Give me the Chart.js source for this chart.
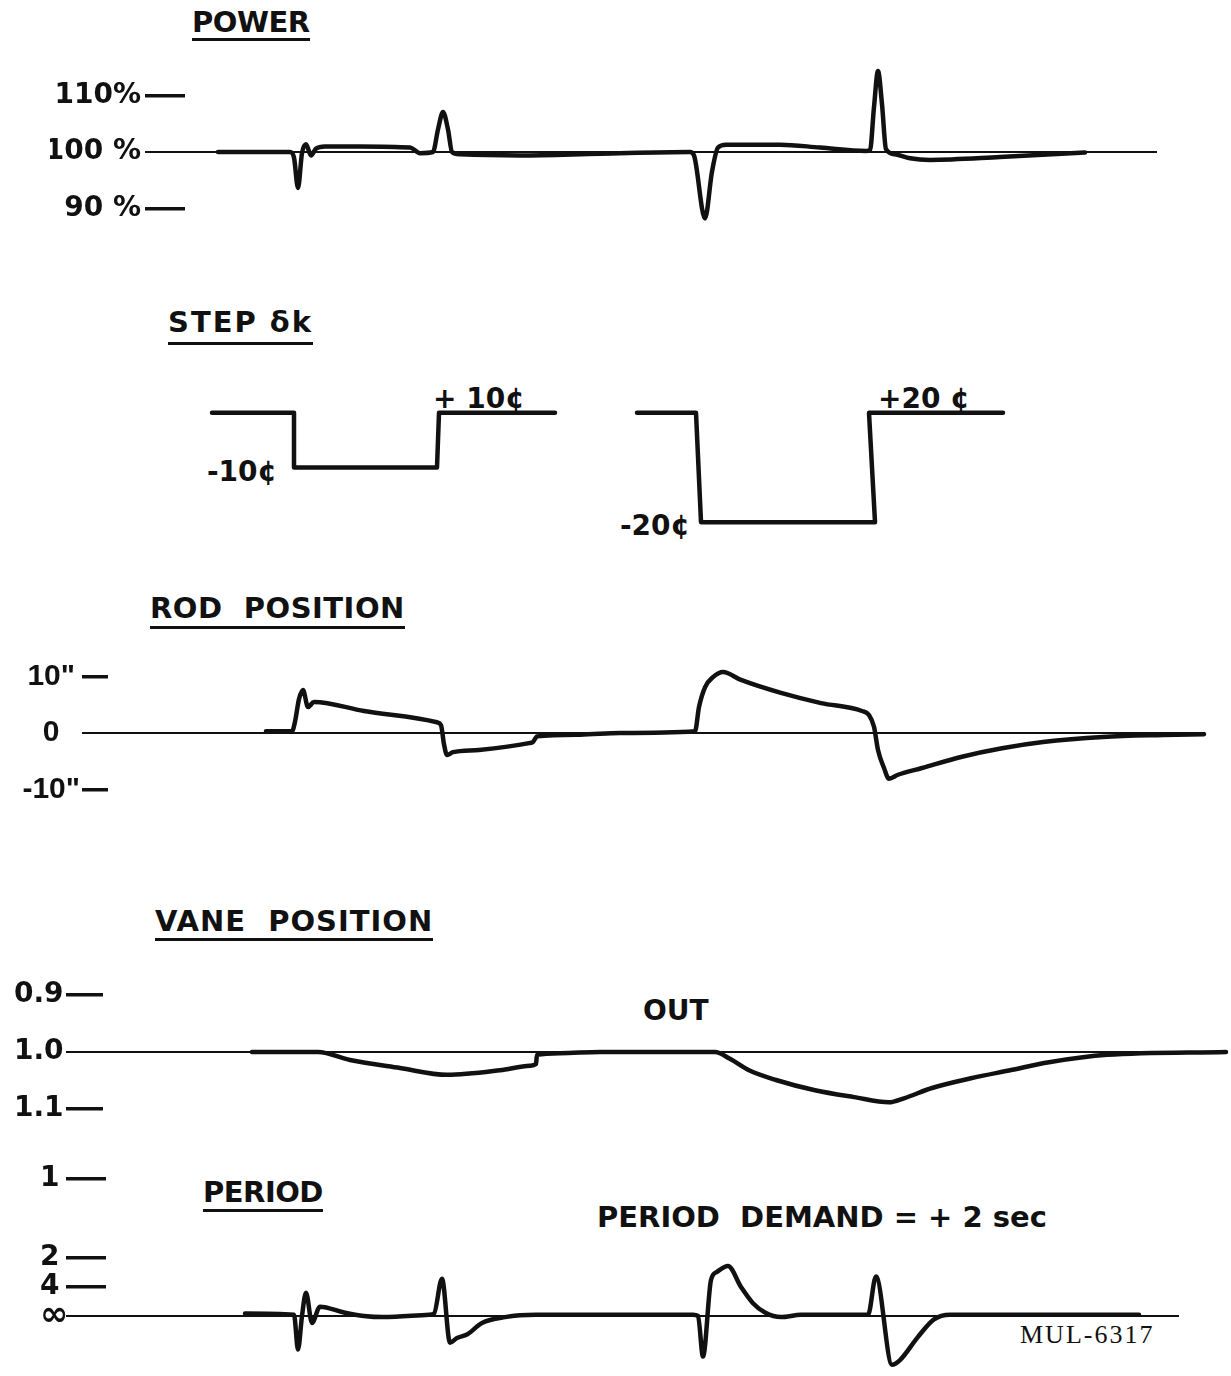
<!DOCTYPE html>
<html>
<head>
<meta charset="utf-8">
<script src="https://cdn.jsdelivr.net/npm/chart.js@4.4.0/dist/chart.umd.min.js"></script>
<style>
  html, body { margin: 0; padding: 0; background: #fff; }
  body { width: 1231px; height: 1376px; position: relative; overflow: hidden;
         font-family: 'DejaVu Sans', sans-serif; color: #111; }
  canvas { position: absolute; left: 0; }
  .title { position: absolute; font-weight: bold; font-size: 29px; line-height: 29px;
           letter-spacing: 0.5px; white-space: pre; border-bottom: 3px solid #111; }
  .note { position: absolute; font-weight: bold; font-size: 28px; line-height: 28px; white-space: pre; }
  .code { position: absolute; font-family: 'Liberation Serif', serif; font-size: 26px;
          line-height: 26px; letter-spacing: 2px; }
</style>
</head>
<body>
<div class="title" style="left:192px; top:8px; padding-bottom:1px; letter-spacing:-0.5px;">POWER</div>
<div class="title" style="left:168px; top:308px; padding-bottom:5px; letter-spacing:2px;">STEP δk</div>
<div class="title" style="left:150px; top:594px; padding-bottom:3px;">ROD  POSITION</div>
<div class="title" style="left:155px; top:907px; padding-bottom:2px; letter-spacing:1px;">VANE  POSITION</div>
<div class="title" style="left:203px; top:1178px; padding-bottom:2px; letter-spacing:-0.5px;">PERIOD</div>

<div class="note" style="left:433px; top:385px;">+ 10¢</div>
<div class="note" style="left:207px; top:458px;">-10¢</div>
<div class="note" style="left:878px; top:385px;">+20 ¢</div>
<div class="note" style="left:620px; top:512px;">-20¢</div>
<div class="note" style="left:643px; top:997px;">OUT</div>
<div class="note" style="left:597px; top:1203px; font-size:29px;">PERIOD  DEMAND = + 2 sec</div>
<div class="code" style="left:1020px; top:1322px;">MUL-6317</div>

<canvas id="power-chart" width="1231" height="180"></canvas>
<canvas id="step-chart" width="1231" height="153"></canvas>
<canvas id="rod-chart" width="1231" height="158"></canvas>
<canvas id="vane-chart" width="1231" height="160"></canvas>
<canvas id="period-chart" width="1231" height="209"></canvas>

<script>
// =================================================================
// Data (time t in s)
// =================================================================
const powerT = [21.8, 29.0, 29.4, 29.8, 30.2, 30.6, 31.1, 31.6, 32.5, 36.0, 41.0, 42.0, 43.3, 43.8, 44.3, 44.8, 45.2, 46.0, 52.0, 60.0,
                69.0, 69.4, 70.5, 71.2, 71.8, 72.6, 78.0, 82.0, 86.6, 87.0, 87.4, 87.8, 88.2, 88.6, 89.5, 91.0, 93.0, 100.0, 108.5];
const powerPct = [100, 100, 99, 93.6, 99.8, 101.4, 99.4, 100.6, 101, 101, 100.8, 99.8, 100, 104, 107.1, 104, 100, 99.6, 99.4, 99.7,
                  100, 99.4, 88.2, 96.5, 100.8, 101.3, 101.3, 100.8, 100.2, 100.3, 108, 114.4, 108.5, 100.5, 99.6, 98.9, 98.6, 99.1, 99.9];
const powerTicks = [110, 100, 90];
const powerTickLabels = ['110%', '100 %', '90 %'];

// step reactivity in cents; null splits the two runs
const stepT = [21.2, 29.4, 29.4, 43.7, 43.9, 55.5, 59.6, 63.7, 69.6, 70.1, 87.5, 86.9, 100.3];
const stepCents = [0, 0, -10, -10, 0, 0, null, 0, 0, -20, -20, 0, 0];

const rodT = [26.6, 29.2, 29.5, 29.9, 30.3, 30.8, 31.4, 36.4, 43.7, 44.1, 44.4, 44.7, 45.3, 47.9, 52.9, 53.3, 53.7, 58.0, 62.0,
              69.5, 69.9, 70.5, 71.3, 72.3, 74.1, 78.1, 82.1, 86.2, 86.9, 87.4, 87.8, 88.4, 88.9, 89.8, 92.2, 96.2, 100.2, 104.3, 110.3, 116.3, 120.4];
const rodInches = [0.3, 0.3, 2.0, 6.0, 7.6, 4.6, 5.5, 3.9, 1.9, 1.4, -2.0, -3.9, -3.4, -3.0, -1.8, -1.6, -0.6, -0.3, 0,
                   0.3, 4.6, 8.1, 9.9, 10.8, 9.4, 7.1, 5.3, 3.9, 3.2, 1.1, -3.0, -6.2, -8.1, -7.4, -6.2, -4.2, -2.7, -1.6, -0.7, -0.35, -0.2];
const rodTicks = [10, 0, -10];
const rodTickLabels = ['10"', '0', '-10"'];

const vaneT = [25.2, 31.8, 35.0, 40.0, 44.7, 50.0, 53.0, 53.6, 53.7, 56.0, 60.0, 71.5, 73.0, 74.9, 77.6, 81.5, 85.4, 88.9, 90.4,
               93.2, 97.1, 101.0, 104.9, 110.7, 122.6];
const vanePos = [1.0, 1.0, 1.014, 1.028, 1.04, 1.032, 1.024, 1.021, 1.005, 1.002, 1.0, 1.0, 1.012, 1.032, 1.049, 1.067, 1.079, 1.088, 1.081,
                 1.063, 1.046, 1.032, 1.018, 1.005, 1.0];
const vaneTicks = [0.9, 1.0, 1.1];
const vaneTickLabels = ['0.9', '1.0', '1.1'];

// inverse period, 1/s
const periodT = [24.5, 29.4, 29.8, 30.2, 30.6, 31.2, 32.0, 34.4, 36.4, 38.3, 42.9, 43.4, 44.2, 45.0, 45.7, 46.7, 48.2, 50.5, 53.6, 60.0,
                 69.3, 69.8, 70.3, 71.1, 71.7, 72.8, 74.1, 75.3, 76.5, 78.1, 80.1, 86.8, 87.6, 89.2, 90.0, 91.8, 93.4, 95.0, 113.9];
const periodInv = [0.02, 0.01, -0.29, 0, 0.2, -0.06, 0.08, 0.03, 0.0, -0.01, 0.01, 0.02, 0.32, -0.23, -0.19, -0.16, -0.06, -0.01, 0.01, 0.01,
                   0.01, 0, -0.35, 0.31, 0.38, 0.43, 0.25, 0.11, 0.03, -0.01, 0.01, 0.01, 0.34, -0.42, -0.38, -0.18, -0.03, 0.01, 0.01];
// the "1" mark sits higher on the drawing than a straight 1/T scale would put it
const periodTicks = [1.18, 0.5, 0.25, 0];
const periodTickLabels = ['1', '2', '4', '∞'];

const INK = '#111';

function points(xs, ys) {
    return xs.map((x, i) => ({ x: x, y: ys[i] }));
}

function trace(xs, ys, smooth) {
    return {
        data: points(xs, ys),
        borderColor: INK,
        borderWidth: 4.5,
        pointRadius: 0,
        spanGaps: false,
        cubicInterpolationMode: smooth ? 'monotone' : 'default',
        tension: 0,
        borderJoinStyle: 'round',
        borderCapStyle: 'round'
    };
}

function baseline(value, tEnd) {
    return {
        data: [{ x: 0, y: value }, { x: tEnd, y: value }],
        borderColor: INK,
        borderWidth: 2,
        pointRadius: 0
    };
}

/**
 * one strip of the figure; all strips share the same time scale
 */
function drawPanel(id, cfg) {
    const canvas = document.getElementById(id);
    canvas.style.top = cfg.top + 'px';
    const hasAxis = !!cfg.ticks;
    const labels = cfg.tickLabels || [];
    const axisWidth = hasAxis ? cfg.axisX - cfg.labelLeft : 0;
    const family = cfg.font || 'DejaVu Sans';
    const size = cfg.fontSize || 28;

    return new Chart(canvas, {
        type: 'line',
        data: { datasets: cfg.datasets },
        options: {
            responsive: false,
            animation: false,
            events: [],
            layout: { padding: { left: hasAxis ? cfg.labelLeft : cfg.axisX, right: 0, top: 0, bottom: 0 } },
            plugins: { legend: { display: false }, tooltip: { enabled: false } },
            scales: {
                x: { type: 'linear', display: false, min: cfg.axisX / 10, max: 123.1 },
                y: {
                    type: 'linear',
                    display: hasAxis,
                    min: cfg.yMin,
                    max: cfg.yMax,
                    reverse: !!cfg.reverse,
                    border: { display: false },
                    grid: {
                        drawOnChartArea: false,
                        drawTicks: true,
                        tickLength: cfg.tickLen || 0,
                        color: INK,
                        lineWidth: c => (c.tick && c.tick.value === cfg.base) ? 2 : 3.5,
                        tickWidth: c => (c.tick && c.tick.value === cfg.base) ? 2 : 3.5
                    },
                    ticks: {
                        color: INK,
                        padding: cfg.pad || 4,
                        crossAlign: cfg.align || 'near',
                        // the infinity sign is lettered much larger on the drawing
                        font: c => ({ family: family, weight: 'bold',
                                      size: labels[c.index] === '∞' ? 34 : size }),
                        callback: (v, i) => (labels[i] !== undefined ? labels[i] : '')
                    },
                    afterBuildTicks: s => { if (hasAxis) s.ticks = cfg.ticks.map(v => ({ value: v })); },
                    afterFit: s => {
                        if (hasAxis) s.width = axisWidth;
                        s.paddingTop = 0;
                        s.paddingBottom = 0;
                    }
                }
            }
        }
    });
}

drawPanel('power-chart', {
    top: 62, yMin: 84, yMax: 116, axisX: 185, labelLeft: 50, tickLen: 40, align: 'near',
    ticks: powerTicks, tickLabels: powerTickLabels, base: 100,
    datasets: [trace(powerT, powerPct, true), baseline(100, 115.7)]
});

drawPanel('step-chart', {
    top: 391, yMin: -24, yMax: 4, axisX: 200,
    datasets: [trace(stepT, stepCents, false)]
});

drawPanel('rod-chart', {
    top: 654, yMin: -14, yMax: 14, axisX: 108, labelLeft: 18, tickLen: 26, pad: 2, align: 'center',
    font: 'Liberation Sans', fontSize: 30,
    ticks: rodTicks, tickLabels: rodTickLabels, base: 0,
    datasets: [trace(rodT, rodInches, true), baseline(0, 120.5)]
});

drawPanel('vane-chart', {
    top: 972, yMin: 0.86, yMax: 1.14, reverse: true, axisX: 103, labelLeft: 14, tickLen: 37, align: 'far',
    ticks: vaneTicks, tickLabels: vaneTickLabels, base: 1.0,
    datasets: [trace(vaneT, vanePos, true), baseline(1.0, 122.6)]
});

drawPanel('period-chart', {
    top: 1165, yMin: -0.5, yMax: 1.3, axisX: 106, labelLeft: 40, tickLen: 40, align: 'far',
    ticks: periodTicks, tickLabels: periodTickLabels, base: 0,
    datasets: [trace(periodT, periodInv, true), baseline(0, 117.9)]
});
</script>
</body>
</html>
